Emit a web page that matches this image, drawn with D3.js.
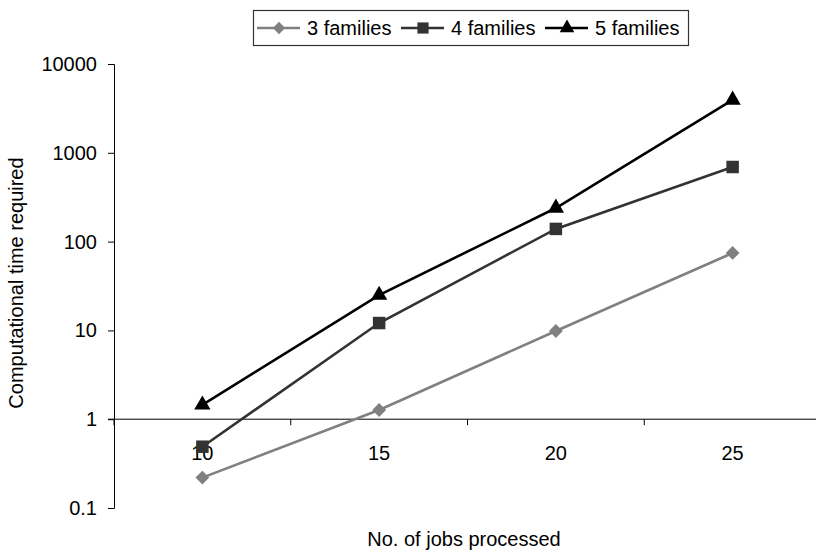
<!DOCTYPE html>
<html>
<head>
<meta charset="utf-8">
<script src="https://cdn.jsdelivr.net/npm/d3@7"></script>
<style>
  body { margin: 0; background: #fff; }
  text { font-family: "Liberation Sans", Arial, sans-serif; fill: #000; }
</style>
</head>
<body>
<div id="chart"></div>
<script>
// chart data
let jobs = ["10", "15", "20", "25"]
let fam3 = [0.22, 1.27, 9.85, 74.5]
let fam4 = [0.49, 12.1, 139, 692]
let fam5 = [1.45, 25, 239, 3935]
let seriesNames = ["3 families", "4 families", "5 families"]
let yTicks = [0.1, 1, 10, 100, 1000, 10000]
let yTickLabels = ["0.1", "1", "10", "100", "1000", "10000"]

let svg = d3.select("#chart").append("svg")
  .attr("width", 816)
  .attr("height", 554)

let plotLeft = 114, plotRight = 821, plotTop = 64, plotBottom = 508
let fontSize = "20px"

let x = d3.scaleBand().domain(jobs).range([plotLeft, plotRight])
let y = d3.scaleLog().domain([0.1, 10000]).range([plotBottom, plotTop])
let cx = d => x(d) + x.bandwidth() / 2

// y axis
let yAxis = svg.append("g")
  .attr("transform", "translate(" + plotLeft + ",0)")
  .call(d3.axisLeft(y).tickValues(yTicks)
    .tickFormat((d, i) => yTickLabels[i]).tickSize(6).tickPadding(11))
yAxis.select(".domain").attr("stroke", "#000")
yAxis.selectAll("line").attr("stroke", "#000")
yAxis.selectAll("text").style("font-size", fontSize).attr("fill", "#000")

// x axis crosses at y = 1
let y0 = y(1)
svg.append("line")
  .attr("x1", plotLeft - 6).attr("x2", plotRight)
  .attr("y1", y0).attr("y2", y0)
  .attr("stroke", "#000")
let bounds = jobs.map(d => x(d)).concat([plotRight])
svg.selectAll(".xtick").data(bounds).enter().append("line")
  .attr("x1", d => d).attr("x2", d => d)
  .attr("y1", y0).attr("y2", y0 + 6)
  .attr("stroke", "#000")
svg.selectAll(".xlab").data(jobs).enter().append("text")
  .attr("x", d => cx(d))
  .attr("y", y0 + 41)
  .attr("text-anchor", "middle")
  .style("font-size", fontSize)
  .text(d => d)

// axis titles
svg.append("text")
  .attr("x", 464).attr("y", 546)
  .attr("text-anchor", "middle")
  .style("font-size", fontSize)
  .text("No. of jobs processed")
svg.append("text")
  .attr("transform", "translate(23,283) rotate(-90)")
  .attr("text-anchor", "middle")
  .style("font-size", fontSize)
  .text("Computational time required")

// series
let series = [
  { name: seriesNames[0], values: fam3, color: "#808080", shape: d3.symbolSquare, size: 95, rot: 45 },
  { name: seriesNames[1], values: fam4, color: "#333333", shape: d3.symbolSquare, size: 156, rot: 0 },
  { name: seriesNames[2], values: fam5, color: "#000000", shape: d3.symbolTriangle, size: 115, rot: 0 }
]

let line = d3.line()
  .x((d, i) => cx(jobs[i]))
  .y(d => y(d))

series.forEach(s => {
  svg.append("path")
    .datum(s.values)
    .attr("d", line)
    .attr("fill", "none")
    .attr("stroke", s.color)
    .attr("stroke-width", 2.6)
  svg.selectAll(null).data(s.values).enter().append("path")
    .attr("d", d3.symbol().type(s.shape).size(s.size))
    .attr("transform", (d, i) => "translate(" + cx(jobs[i]) + "," + y(d) + ") rotate(" + s.rot + ")")
    .attr("fill", s.color)
})

// legend
let legend = svg.append("g")
legend.append("rect")
  .attr("x", 253.5).attr("y", 10.5)
  .attr("width", 435).attr("height", 35)
  .attr("fill", "#fff")
  .attr("stroke", "#333")
  .attr("stroke-width", 1.2)
let legendX = [257, 401, 545]
series.forEach((s, i) => {
  let g = legend.append("g").attr("transform", "translate(" + legendX[i] + ",28)")
  g.append("line")
    .attr("x1", 0).attr("x2", 43)
    .attr("stroke", s.color).attr("stroke-width", 2.6)
  g.append("path")
    .attr("d", d3.symbol().type(s.shape).size(s.size * 0.8))
    .attr("transform", "translate(22,0) rotate(" + s.rot + ")")
    .attr("fill", s.color)
  g.append("text")
    .attr("x", 50).attr("y", 7)
    .style("font-size", fontSize)
    .text(s.name)
})
</script>
</body>
</html>
